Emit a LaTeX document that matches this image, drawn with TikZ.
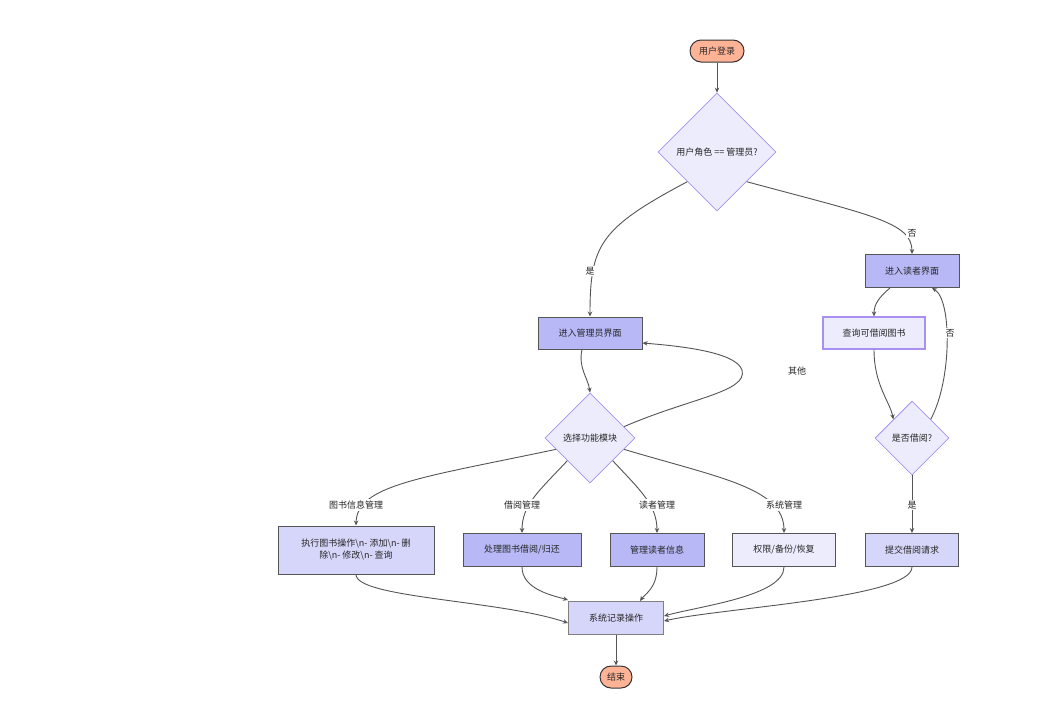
\documentclass[tikz,border=0pt]{standalone}
\usepackage{fontspec}
\setmainfont{Noto Sans CJK SC}
\usetikzlibrary{shapes.geometric,arrows.meta,calc}
\definecolor{edgec}{HTML}{555555}
\definecolor{boxline}{HTML}{555555}
\definecolor{purpline}{HTML}{A990F0}
\definecolor{fillmid}{HTML}{B8B8F6}
\definecolor{filllight}{HTML}{D6D6FA}
\definecolor{fillpale}{HTML}{ECECFD}
\definecolor{fillorange}{HTML}{FFB396}
\tikzset{
  every node/.style={font=\fontsize{9}{12}\selectfont, text=black!85},
  term/.style={rectangle, rounded corners=11pt, draw=black!80, line width=1pt, fill=fillorange, minimum height=22pt, inner sep=0pt},
  dec/.style={diamond, draw=purpline, line width=0.8pt, fill=fillpale, aspect=1, inner sep=0pt},
  boxmid/.style={rectangle, draw=boxline, line width=1pt, fill=fillmid, minimum height=33pt},
  boxlight/.style={rectangle, draw=boxline, line width=1pt, fill=filllight, minimum height=33pt},
  boxpale/.style={rectangle, draw=boxline, line width=1pt, fill=fillpale, minimum height=33pt},
  boxpurp/.style={rectangle, draw=purpline, line width=1.2pt, fill=fillpale, minimum height=33pt},
  arr/.style={draw=edgec, line width=0.9pt, -{Stealth[length=5pt,width=4.5pt]}},
  lbl/.style={fill=white, inner sep=1.5pt},
}
\begin{document}
\begin{tikzpicture}[x=1pt,y=-1pt]
\fill[white] (0,0) rectangle (1048,723);
\useasboundingbox (0,0) rectangle (1048,723);

% nodes
\node[term, minimum width=54pt] (login) at (717,51) {用户登录};
\node[dec, minimum width=118pt, minimum height=118pt] (d1) at (717,152) {用户角色 == 管理员?};
\node[boxmid, minimum width=104pt, minimum height=32pt] (admin) at (590,333) {进入管理员界面};
\node[boxmid, minimum width=94pt] (reader) at (912,271) {进入读者界面};
\node[boxpurp, minimum width=102pt, minimum height=32pt] (query) at (874,333) {查询可借阅图书};
\node[dec, minimum width=74pt, minimum height=74pt] (isb) at (912,438) {是否借阅?};
\node[dec, minimum width=90pt, minimum height=90pt] (sel) at (590,438) {选择功能模块};
\node[boxlight, minimum width=156pt, minimum height=48pt, align=center] (book) at (356,550) {执行图书操作\textbackslash n- 添加\textbackslash n- 删\\除\textbackslash n- 修改\textbackslash n- 查询};
\node[boxmid, minimum width=118pt] (borrow) at (522,550) {处理图书借阅/归还};
\node[boxmid, minimum width=94pt] (rmgmt) at (657,550) {管理读者信息};
\node[boxpale, minimum width=103pt] (sys) at (784,550) {权限/备份/恢复};
\node[boxlight, minimum width=93pt] (submit) at (912,550) {提交借阅请求};
\node[boxlight, minimum width=95pt, draw=black!50] (log) at (616,618) {系统记录操作};
\node[term, minimum width=32pt] (end) at (616,677) {结束};

% coordinates on borders
\coordinate (selL) at ($(sel.west)!0.25!(sel.south)$);
\coordinate (selR) at ($(sel.east)!0.25!(sel.south)$);
\coordinate (selUR) at ($(sel.east)!0.25!(sel.north)$);

% edges
\draw[arr] (login.south) -- (d1.north);
\draw[arr] (d1.south west) .. controls (600,228) and (590,245) .. (admin.north);
\node[lbl] (lshi) at (590,271) {是};
\draw[arr] (d1.south east) .. controls (870,215) and (912,222) .. (reader.north);
\node[lbl] (lfou) at (912,233) {否};

\draw[arr] ([xshift=-8pt]admin.south) .. controls (578,368) and (588,378) .. (sel.north);
\draw[arr] (selUR) .. controls (690,398) and (748,392) .. (742,370) .. controls (736,352) and (680,346) .. ([yshift=-10pt]admin.east);
\node (lqita) at (797,371) {其他};

\draw[arr] (selL) .. controls (420,478) and (357,485) .. (book.north);
\node[lbl] (lbook) at (356,505) {图书信息管理};
\draw[arr] (sel.south west) .. controls (538,492) and (522,505) .. (borrow.north);
\node[lbl] (lborrow) at (522,505) {借阅管理};
\draw[arr] (sel.south east) .. controls (640,490) and (657,505) .. (rmgmt.north);
\node[lbl] (lrm) at (657,505) {读者管理};
\draw[arr] (selR) .. controls (720,478) and (784,488) .. (sys.north);
\node[lbl] (lsys) at (784,505) {系统管理};

\draw[arr] ([xshift=-22pt]reader.south) .. controls (878,298) and (874,305) .. (query.north);
\draw[arr] (query.south) .. controls (874,385) and (890,402) .. (isb.north west);
\draw[arr] (isb.north east) .. controls (952,380) and (952,300) .. ([xshift=20pt]reader.south);
\node[lbl] (lfou2) at (950,333) {否};
\draw[arr] (isb.south) -- (submit.north);
\node[lbl] (lshi2) at (912,505) {是};

\draw[arr] (book.south) .. controls (356,598) and (500,600) .. ([yshift=-5pt]log.west);
\draw[arr] (borrow.south) .. controls (522,590) and (555,596) .. ([yshift=1pt]log.north west);
\draw[arr] (rmgmt.south) .. controls (657,588) and (645,594) .. ([xshift=24pt]log.north);
\draw[arr] (sys.south) .. controls (784,596) and (700,606) .. ([yshift=2pt]log.east);
\draw[arr] (submit.south) .. controls (912,598) and (720,608) .. ([yshift=-3pt]log.east);
\draw[arr] (log.south) -- (end.north);
\end{tikzpicture}
\end{document}
